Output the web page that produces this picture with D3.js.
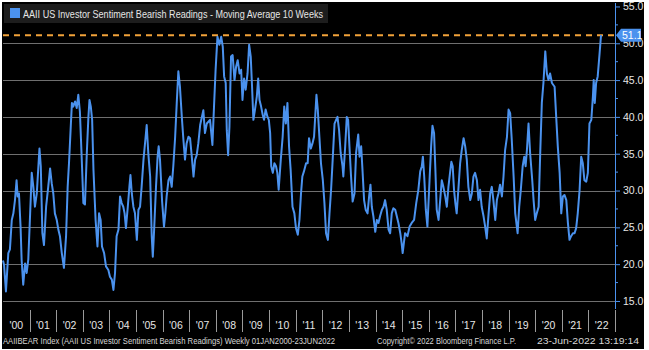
<!DOCTYPE html>
<html>
<head>
<meta charset="utf-8">
<script src="https://cdn.jsdelivr.net/npm/d3@7/dist/d3.min.js"></script>
<style>
  html, body { margin: 0; padding: 0; background: #ffffff; }
  svg { display: block; }
  text { font-family: "Liberation Sans", "DejaVu Sans", sans-serif; }
</style>
</head>
<body>
<svg id="chart" width="649" height="350"></svg>
<script>
// ---- Data ----
const chartTitle = "AAII US Investor Sentiment Bearish Readings - Moving Average 10 Weeks";
const footerLeft = "AAIIBEAR Index (AAII US Investor Sentiment Bearish Readings)  Weekly 01JAN2000-23JUN2022";
const footerMid = "Copyright\u00A9 2022 Bloomberg Finance L.P.";
const footerRight = "23-Jun-2022 13:19:14";

// decimal-year time stamps of the points
const years = [
  2000.00,2000.04,2000.11,2000.20,2000.26,2000.33,2000.39,2000.45,2000.51,2000.55,2000.60,2000.66,2000.70,2000.76,2000.83,2000.89,2000.95,
  2001.02,2001.08,2001.14,2001.20,2001.27,2001.33,2001.37,2001.42,2001.48,2001.54,2001.62,2001.70,2001.77,2001.83,2001.89,2001.95,
  2002.02,2002.08,2002.14,2002.21,2002.29,2002.37,2002.43,2002.48,2002.54,2002.59,2002.64,2002.71,2002.77,2002.83,2002.89,2002.96,
  2003.02,2003.08,2003.15,2003.21,2003.25,2003.30,2003.35,2003.40,2003.48,2003.55,2003.61,2003.67,2003.72,2003.80,2003.87,2003.96,
  2004.02,2004.09,2004.15,2004.21,2004.27,2004.34,2004.40,2004.46,2004.52,2004.57,2004.62,2004.69,2004.75,2004.79,2004.84,2004.90,2004.96,
  2005.03,2005.09,2005.15,2005.21,2005.28,2005.35,2005.40,2005.46,2005.53,2005.59,2005.63,2005.68,2005.75,2005.81,2005.85,2005.90,2005.98,
  2006.05,2006.10,2006.15,2006.22,2006.28,2006.34,2006.40,2006.47,2006.53,2006.59,2006.65,2006.72,2006.78,2006.84,2006.90,2006.97,
  2007.03,2007.09,2007.16,2007.22,2007.28,2007.34,2007.41,2007.53,2007.59,2007.66,2007.78,2007.87,2007.93,2007.99,
  2008.06,2008.13,2008.20,2008.26,2008.31,2008.37,2008.41,2008.46,2008.51,2008.57,2008.63,2008.70,2008.76,2008.82,2008.89,2008.95,
  2009.00,2009.06,2009.12,2009.19,2009.25,2009.31,2009.36,2009.41,2009.47,2009.54,2009.59,2009.64,2009.70,2009.76,2009.81,2009.87,2009.94,2009.99,
  2010.04,2010.08,2010.14,2010.20,2010.26,2010.31,2010.36,2010.44,2010.51,2010.57,2010.63,2010.69,2010.75,2010.81,2010.88,2010.95,
  2011.01,2011.08,2011.14,2011.20,2011.25,2011.31,2011.39,2011.45,2011.50,2011.57,2011.63,2011.69,2011.74,2011.78,2011.83,2011.89,2011.95,
  2012.02,2012.08,2012.14,2012.21,2012.27,2012.33,2012.39,2012.46,2012.52,2012.57,2012.63,2012.69,2012.76,2012.79,2012.86,2012.92,2012.97,
  2013.02,2013.08,2013.14,2013.21,2013.27,2013.35,2013.40,2013.46,2013.51,2013.57,2013.63,2013.70,2013.76,2013.81,2013.86,2013.92,2013.99,
  2014.05,2014.11,2014.17,2014.24,2014.30,2014.36,2014.42,2014.49,2014.55,2014.61,2014.67,2014.74,2014.80,2014.86,2014.93,2014.98,
  2015.02,2015.11,2015.20,2015.28,2015.36,2015.45,2015.53,2015.61,2015.68,2015.74,2015.78,2015.83,2015.89,2015.95,
  2016.03,2016.09,2016.14,2016.20,2016.25,2016.30,2016.37,2016.43,2016.49,2016.55,2016.62,2016.68,2016.74,2016.80,2016.85,2016.90,2016.95,
  2017.00,2017.05,2017.12,2017.18,2017.24,2017.31,2017.37,2017.43,2017.49,2017.56,2017.62,2017.68,2017.74,2017.81,2017.87,2017.93,2017.99,
  2018.06,2018.12,2018.18,2018.25,2018.31,2018.37,2018.43,2018.50,2018.56,2018.62,2018.68,2018.75,2018.81,2018.87,2018.94,
  2019.00,2019.06,2019.12,2019.19,2019.25,2019.34,2019.40,2019.46,2019.53,2019.59,2019.64,2019.69,2019.75,2019.81,2019.89,2019.94,
  2020.00,2020.06,2020.13,2020.19,2020.25,2020.31,2020.38,2020.44,2020.50,2020.56,2020.63,2020.69,2020.73,2020.79,2020.85,2020.92,2020.98,
  2021.04,2021.10,2021.17,2021.23,2021.29,2021.35,2021.42,2021.48,2021.54,2021.60,2021.67,2021.73,2021.79,2021.85,2021.92,2021.98,
  2022.04,2022.11,2022.17,2022.20,2022.24,2022.29,2022.35,2022.42,2022.475
];

// AAII bearish readings, 10-week moving average (%)
const bearish = [
  20.5,19.9,16.3,21.5,22.0,26.0,26.9,28.7,31.4,29.2,29.6,25.1,20.6,17.2,20.1,18.8,20.6,
  26.9,32.4,30.5,27.8,29.6,33.3,35.7,33.3,24.2,22.6,27.8,30.5,33.0,31.0,29.6,26.9,
  26.0,24.7,23.8,21.5,19.5,23.8,30.5,33.7,38.2,41.9,41.4,42.1,41.2,43.0,40.7,34.2,
  28.3,28.1,35.1,40.0,42.3,41.4,39.6,32.8,26.0,22.4,26.9,26.0,22.4,21.5,19.7,19.2,
  18.3,17.9,16.5,18.8,23.8,24.7,29.2,28.3,27.8,26.9,24.9,27.8,30.5,32.1,29.6,27.8,26.9,
  23.3,27.4,27.8,30.5,34.2,36.9,38.9,35.1,31.9,23.8,21.0,24.7,30.5,34.6,36.0,34.2,28.5,
  25.1,26.9,29.2,31.4,31.9,30.5,33.3,37.3,41.9,46.2,44.1,40.0,36.9,34.2,36.4,37.3,
  37.1,34.8,31.9,34.2,34.8,36.4,38.9,40.9,37.8,39.1,39.6,36.2,41.4,46.4,
  50.9,49.8,50.9,49.5,45.5,44.6,38.2,34.8,38.7,48.2,48.4,45.0,46.8,47.7,45.9,46.4,
  42.3,45.2,43.7,45.9,49.8,48.2,44.1,39.6,41.0,42.8,45.2,42.3,41.4,40.3,39.6,41.0,40.0,39.6,
  37.8,33.3,32.4,33.7,33.3,32.4,30.1,34.2,37.3,41.4,39.1,41.9,36.0,32.8,27.8,26.9,
  24.9,24.0,26.0,29.6,31.9,32.6,33.7,33.7,37.1,35.7,36.4,37.3,40.5,43.0,41.0,37.3,33.7,
  31.4,28.3,24.2,23.3,26.9,30.1,34.2,39.1,39.6,40.0,38.2,35.1,33.3,31.9,36.0,40.0,39.6,
  36.0,31.9,28.5,29.6,35.1,37.6,34.6,36.0,32.8,28.7,27.4,26.9,29.2,30.8,27.8,26.5,24.4,
  26.0,25.6,26.5,27.4,27.8,28.7,27.4,24.7,24.2,26.9,27.6,27.4,26.5,25.6,24.2,22.9,
  21.5,24.2,23.8,25.1,25.6,26.0,28.3,30.1,32.6,33.3,34.6,31.9,27.4,25.1,
  31.4,36.0,38.8,37.8,32.8,27.4,26.0,28.7,31.4,30.5,29.2,27.8,30.5,32.4,33.9,33.3,30.1,
  28.3,26.9,30.5,33.7,35.5,37.1,36.0,34.2,30.5,28.7,29.6,31.9,32.4,31.4,28.7,30.1,27.8,
  26.5,25.1,23.5,26.9,29.6,30.5,28.7,26.0,28.7,29.6,30.8,29.2,31.9,35.5,37.3,
  41.0,40.5,36.9,31.9,26.9,24.2,27.8,30.1,33.3,34.6,33.3,35.5,39.1,35.1,31.4,28.7,
  26.0,26.9,27.8,35.1,41.9,44.6,48.9,45.9,45.0,45.9,44.6,44.3,44.1,40.0,36.0,32.4,26.9,
  29.2,29.4,28.7,25.6,23.3,23.8,24.2,24.2,24.9,26.9,30.1,34.6,33.7,31.4,31.2,32.4,
  39.1,39.6,42.8,45.0,41.9,44.6,45.5,48.6,51.1
];

const lastValue = 51.1;
const xLabelYears = d3.range(2000, 2023);           // '00 ... '22
const yTickValues = [15, 20, 25, 30, 35, 40, 45, 50, 55];
const yMinorTicks = [17.5, 22.5, 27.5, 32.5, 37.5, 42.5, 47.5, 52.5];
const gridValues = [15, 20, 25, 30, 35, 40, 45, 50];

// ---- Layout ----
const W = 649, H = 350;
const plot = { left: 3, right: 615, top: 3, bottom: 309 };
const lineColor = "#4b92ee";
const svg = d3.select("#chart");

// frame
svg.append("rect").attr("x", 0).attr("y", 0).attr("width", W).attr("height", H).attr("fill", "#ffffff");
svg.append("rect").attr("x", 2).attr("y", 2).attr("width", 642).attr("height", 347).attr("fill", "#000000");

const x = d3.scaleLinear().domain([2000, 2023]).range([plot.left, plot.right]);
const y = d3.scaleLinear().domain([13.91, 55.47]).range([plot.bottom, plot.top]);

// gridlines
svg.append("g").selectAll("line").data(gridValues).join("line")
  .attr("x1", plot.left).attr("x2", plot.right)
  .attr("y1", d => Math.round(y(d)) + 0.5).attr("y2", d => Math.round(y(d)) + 0.5)
  .attr("stroke", "#6f6f6f").attr("stroke-width", 1);

// reference level (last value) dashed line
svg.append("line")
  .attr("x1", plot.left).attr("x2", plot.right)
  .attr("y1", y(lastValue)).attr("y2", y(lastValue))
  .attr("stroke", "#f2a33a").attr("stroke-width", 2)
  .attr("stroke-dasharray", "6,5");

// series line
const pts = years.map((t, i) => [t, bearish[i]]);
svg.append("path").datum(pts)
  .attr("fill", "none")
  .attr("stroke", lineColor)
  .attr("stroke-width", 2)
  .attr("stroke-linejoin", "round")
  .attr("d", d3.line().x(d => x(d[0])).y(d => y(d[1])));

// legend box
svg.append("rect").attr("x", 4).attr("y", 4).attr("width", 324).attr("height", 19).attr("fill", "#1d1d1d");
svg.append("rect").attr("x", 10).attr("y", 8).attr("width", 10).attr("height", 10).attr("fill", lineColor);
svg.append("text").attr("x", 23).attr("y", 17.5)
  .attr("fill", "#e6e6e6").attr("font-size", 10.5)
  .attr("textLength", 300).attr("lengthAdjust", "spacingAndGlyphs")
  .text(chartTitle);

// right axis
const yAxis = d3.axisRight(y).tickValues(yTickValues).tickSize(5).tickPadding(3).tickFormat(d3.format(".1f"));
const gy = svg.append("g").attr("transform", `translate(${plot.right},0)`).call(yAxis);
gy.select(".domain").attr("stroke", lineColor).attr("d", `M0.5,${plot.top}V${plot.bottom}`);
gy.selectAll(".tick line").attr("stroke", lineColor);
gy.selectAll(".tick text").attr("fill", "#e6e6e6").attr("font-size", 10.5)
  .attr("font-family", "Liberation Sans, DejaVu Sans, sans-serif");
svg.append("g").attr("transform", `translate(${plot.right},0)`)
  .selectAll("line").data(yMinorTicks).join("line")
  .attr("x1", 0).attr("x2", 3)
  .attr("y1", d => y(d)).attr("y2", d => y(d))
  .attr("stroke", lineColor);

// last value marker label
const ly = y(lastValue);
svg.append("path")
  .attr("d", `M${plot.right + 1},${ly} L${plot.right + 6},${ly - 6.5} H${plot.right + 26} V${ly + 6.5} H${plot.right + 6} Z`)
  .attr("fill", lineColor);
svg.append("text").attr("x", plot.right + 7).attr("y", ly).attr("dy", "0.35em")
  .attr("fill", "#ffffff").attr("font-size", 10.5).text(lastValue.toFixed(1));

// bottom axis: year separators and labels
const gx = svg.append("g");
gx.selectAll("line").data(d3.range(2001, 2024)).join("line")
  .attr("x1", d => Math.round(x(d)) + 0.5).attr("x2", d => Math.round(x(d)) + 0.5)
  .attr("y1", 310).attr("y2", 332)
  .attr("stroke", "#9a9a9a").attr("stroke-width", 1);
gx.selectAll("text").data(xLabelYears).join("text")
  .attr("x", d => x(d + 0.5)).attr("y", 329)
  .attr("text-anchor", "middle")
  .attr("fill", "#e6e6e6").attr("font-size", 10.5)
  .text(d => "'" + String(d % 100).padStart(2, "0"));

// footer
svg.append("text").attr("x", 3).attr("y", 344).attr("fill", "#d6d6d6").attr("font-size", 8.5)
  .attr("textLength", 332).attr("lengthAdjust", "spacingAndGlyphs").text(footerLeft);
svg.append("text").attr("x", 377).attr("y", 344).attr("fill", "#d6d6d6").attr("font-size", 8.5)
  .attr("textLength", 139).attr("lengthAdjust", "spacingAndGlyphs").text(footerMid);
svg.append("text").attr("x", 537).attr("y", 344).attr("fill", "#d6d6d6").attr("font-size", 8.5)
  .attr("textLength", 102).attr("lengthAdjust", "spacingAndGlyphs").text(footerRight);
</script>
</body>
</html>
